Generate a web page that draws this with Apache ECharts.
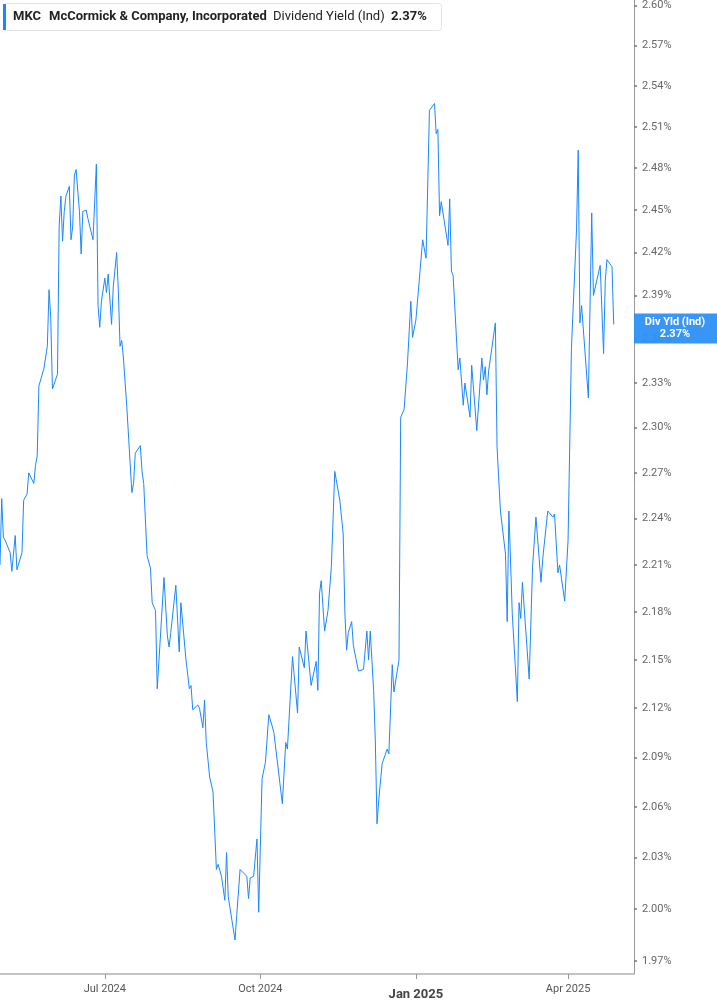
<!DOCTYPE html>
<html>
<head>
<meta charset="utf-8">
<script src="https://cdn.jsdelivr.net/npm/echarts@6/dist/echarts.min.js"></script>
<style>
  html, body { margin: 0; padding: 0; background: #fff; }
  #chart { width: 717px; height: 1005px; }
</style>
</head>
<body>
<div id="chart"></div>
<script>
// MKC dividend yield (indicated)
const dates = [
  '2024-04-30', '2024-05-01', '2024-05-02', '2024-05-03', '2024-05-06', '2024-05-07', '2024-05-09', '2024-05-10',
  '2024-05-13', '2024-05-14', '2024-05-15', '2024-05-16', '2024-05-17', '2024-05-20', '2024-05-21', '2024-05-22',
  '2024-05-23', '2024-05-24', '2024-05-26', '2024-05-28', '2024-05-29', '2024-05-30', '2024-05-31', '2024-06-03',
  '2024-06-04', '2024-06-05', '2024-06-06', '2024-06-07', '2024-06-08', '2024-06-10', '2024-06-11', '2024-06-12',
  '2024-06-13', '2024-06-14', '2024-06-16', '2024-06-17', '2024-06-18', '2024-06-20', '2024-06-21', '2024-06-24',
  '2024-06-26', '2024-06-27', '2024-06-28', '2024-06-29', '2024-07-01', '2024-07-02', '2024-07-03', '2024-07-05',
  '2024-07-06', '2024-07-08', '2024-07-09', '2024-07-10', '2024-07-11', '2024-07-12', '2024-07-14', '2024-07-17',
  '2024-07-18', '2024-07-19', '2024-07-22', '2024-07-23', '2024-07-24', '2024-07-26', '2024-07-28', '2024-07-29',
  '2024-07-31', '2024-08-01', '2024-08-05', '2024-08-07', '2024-08-08', '2024-08-09', '2024-08-12', '2024-08-14',
  '2024-08-15', '2024-08-18', '2024-08-19', '2024-08-20', '2024-08-21', '2024-08-22', '2024-08-25', '2024-08-26',
  '2024-08-28', '2024-08-29', '2024-08-30', '2024-09-01', '2024-09-03', '2024-09-05', '2024-09-06', '2024-09-08',
  '2024-09-10', '2024-09-11', '2024-09-12', '2024-09-16', '2024-09-17', '2024-09-19', '2024-09-23', '2024-09-24',
  '2024-09-25', '2024-09-27', '2024-09-29', '2024-09-30', '2024-10-02', '2024-10-04', '2024-10-06', '2024-10-08',
  '2024-10-09', '2024-10-14', '2024-10-16', '2024-10-17', '2024-10-20', '2024-10-23', '2024-10-24', '2024-10-27',
  '2024-10-28', '2024-10-31', '2024-11-03', '2024-11-04', '2024-11-05', '2024-11-06', '2024-11-08', '2024-11-10',
  '2024-11-12', '2024-11-14', '2024-11-17', '2024-11-19', '2024-11-20', '2024-11-21', '2024-11-22', '2024-11-24',
  '2024-11-25', '2024-11-26', '2024-11-28', '2024-12-01', '2024-12-03', '2024-12-04', '2024-12-05', '2024-12-07',
  '2024-12-08', '2024-12-09', '2024-12-10', '2024-12-11', '2024-12-12', '2024-12-15', '2024-12-16', '2024-12-18',
  '2024-12-19', '2024-12-22', '2024-12-23', '2024-12-25', '2024-12-27', '2024-12-29', '2024-12-30', '2025-01-01',
  '2025-01-02', '2025-01-05', '2025-01-07', '2025-01-09', '2025-01-12', '2025-01-13', '2025-01-14', '2025-01-15',
  '2025-01-16', '2025-01-20', '2025-01-21', '2025-01-22', '2025-01-23', '2025-01-26', '2025-01-27', '2025-01-29',
  '2025-01-30', '2025-02-02', '2025-02-03', '2025-02-04', '2025-02-06', '2025-02-09', '2025-02-10', '2025-02-11',
  '2025-02-12', '2025-02-13', '2025-02-17', '2025-02-18', '2025-02-20', '2025-02-23', '2025-02-24', '2025-02-25',
  '2025-02-27', '2025-03-02', '2025-03-03', '2025-03-04', '2025-03-05', '2025-03-09', '2025-03-11', '2025-03-13',
  '2025-03-16', '2025-03-17', '2025-03-18', '2025-03-20', '2025-03-23', '2025-03-24', '2025-03-26', '2025-03-27',
  '2025-03-30', '2025-03-31', '2025-04-01', '2025-04-03', '2025-04-06', '2025-04-07', '2025-04-08', '2025-04-09',
  '2025-04-13', '2025-04-15', '2025-04-16', '2025-04-20', '2025-04-22', '2025-04-23', '2025-04-24', '2025-04-27',
  '2025-04-28'
];

const yields = [
  2.210, 2.253, 2.228, 2.226, 2.218, 2.206, 2.229, 2.207,
  2.218, 2.252, 2.252, 2.256, 2.270, 2.263, 2.275, 2.281,
  2.328, 2.327, 2.340, 2.355, 2.394, 2.375, 2.326, 2.336,
  2.439, 2.460, 2.428, 2.449, 2.460, 2.467, 2.429, 2.438,
  2.475, 2.479, 2.449, 2.419, 2.449, 2.450, 2.444, 2.429,
  2.483, 2.383, 2.368, 2.386, 2.402, 2.392, 2.405, 2.370,
  2.396, 2.420, 2.393, 2.355, 2.359, 2.347, 2.314, 2.257,
  2.263, 2.283, 2.288, 2.271, 2.263, 2.216, 2.208, 2.186,
  2.181, 2.132, 2.202, 2.165, 2.158, 2.167, 2.197, 2.155,
  2.186, 2.150, 2.151, 2.132, 2.134, 2.119, 2.122, 2.120,
  2.108, 2.125, 2.099, 2.078, 2.069, 2.023, 2.026, 2.019,
  2.005, 2.033, 2.007, 1.982, 1.996, 2.023, 2.019, 2.006,
  2.018, 2.019, 2.041, 1.998, 2.077, 2.087, 2.116, 2.109,
  2.105, 2.062, 2.099, 2.095, 2.152, 2.117, 2.158, 2.145,
  2.168, 2.134, 2.149, 2.131, 2.192, 2.200, 2.168, 2.181,
  2.209, 2.271, 2.252, 2.230, 2.179, 2.156, 2.167, 2.174,
  2.159, 2.159, 2.143, 2.144, 2.168, 2.150, 2.168, 2.131,
  2.100, 2.050, 2.064, 2.064, 2.086, 2.095, 2.092, 2.147,
  2.130, 2.150, 2.307, 2.312, 2.343, 2.386, 2.361, 2.373,
  2.374, 2.429, 2.416, 2.522, 2.527, 2.505, 2.508, 2.446,
  2.456, 2.425, 2.458, 2.407, 2.404, 2.339, 2.347, 2.315,
  2.330, 2.307, 2.342, 2.343, 2.298, 2.347, 2.332, 2.341,
  2.322, 2.338, 2.371, 2.287, 2.245, 2.217, 2.174, 2.245,
  2.179, 2.124, 2.186, 2.176, 2.199, 2.138, 2.209, 2.241,
  2.199, 2.214, 2.214, 2.245, 2.241, 2.243, 2.205, 2.210,
  2.187, 2.188, 2.226, 2.354, 2.436, 2.493, 2.371, 2.383,
  2.320, 2.448, 2.390, 2.411, 2.350, 2.400, 2.415, 2.410,
  2.370
];

const yTicks = [1.97, 2.00, 2.03, 2.06, 2.09, 2.12, 2.15, 2.18, 2.21, 2.24, 2.27,
  2.30, 2.33, 2.36, 2.39, 2.42, 2.45, 2.48, 2.51, 2.54, 2.57, 2.60];
const xTicks = ['2024-07-01', '2024-10-01', '2025-01-01', '2025-04-01'];
const xTickLabels = ['Jul 2024', 'Oct 2024', 'Jan 2025', 'Apr 2025'];

const lineColor = '#1a88ff';
const lastValue = yields[yields.length - 1];

function ts(d) {
  return +new Date(d + 'T00:00:00');
}
const xTickTs = xTicks.map(ts);

const chart = echarts.init(document.getElementById('chart'));

chart.setOption({
  animation: false,
  textStyle: { fontFamily: 'Roboto' },
  grid: { left: 0, right: 83, top: 0, bottom: 31 },
  xAxis: {
    type: 'value',
    min: ts('2024-04-30'),
    max: ts('2025-05-10'),
    axisLine: { show: true, lineStyle: { color: '#b0b0b0', width: 1.5 } },
    axisTick: {
      show: true,
      customValues: xTickTs,
      length: 5,
      lineStyle: { color: '#999' }
    },
    axisLabel: {
      customValues: xTickTs,
      color: '#555',
      fontSize: 11,
      margin: 10,
      formatter: function (value) {
        const i = xTickTs.indexOf(value);
        const label = i >= 0 ? xTickLabels[i] : '';
        return label === 'Jan 2025' ? '{b|' + label + '}' : label;
      },
      rich: {
        b: { fontWeight: 'bold', fontSize: 13, color: '#444', padding: [4, 0, 0, 0] }
      }
    },
    splitLine: { show: false }
  },
  yAxis: {
    type: 'log',
    position: 'right',
    min: 1.9625,
    max: 2.6038,
    axisLine: { show: true, lineStyle: { color: '#999' } },
    axisTick: {
      show: true,
      customValues: yTicks,
      length: 3,
      lineStyle: { color: '#777', width: 1.5 }
    },
    axisLabel: {
      customValues: yTicks,
      color: '#666',
      fontSize: 11,
      margin: 8,
      formatter: function (v) { return (+v).toFixed(2) + '%'; }
    },
    splitLine: { show: false }
  },
  series: [
    {
      type: 'line',
      data: dates.map(function (d, i) { return [ts(d), yields[i]]; }),
      showSymbol: false,
      lineStyle: { color: lineColor, width: 1 },
      itemStyle: { color: lineColor }
    }
  ]
});

// header box and last-value tag
const lastY = chart.convertToPixel({ yAxisIndex: 0 }, lastValue);
const headerFont = { fontFamily: 'Roboto', fontSize: 13, fill: '#222' };
chart.setOption({
  graphic: [
    {
      type: 'rect',
      shape: { x: 3.5, y: 3.5, width: 438, height: 27, r: 3 },
      style: { fill: '#fff', stroke: '#e3e3e3', lineWidth: 1 }
    },
    {
      type: 'rect',
      shape: { x: 3, y: 4, width: 3, height: 26 },
      style: { fill: lineColor }
    },
    { type: 'text', x: 13, y: 17, style: Object.assign({ text: 'MKC', fontWeight: 'bold', verticalAlign: 'middle' }, headerFont) },
    { type: 'text', x: 49, y: 17, style: Object.assign({ text: 'McCormick & Company, Incorporated', fontWeight: 'bold', verticalAlign: 'middle' }, headerFont) },
    { type: 'text', x: 273, y: 17, style: Object.assign({ text: 'Dividend Yield (Ind)', verticalAlign: 'middle' }, headerFont) },
    { type: 'text', x: 391, y: 17, style: Object.assign({ text: lastValue.toFixed(2) + '%', fontWeight: 'bold', verticalAlign: 'middle' }, headerFont) },
    {
      type: 'rect',
      z: 100,
      shape: { x: 634, y: lastY - 11, width: 83, height: 30 },
      style: { fill: '#2a8ff5', opacity: 0.94 }
    },
    {
      type: 'text',
      z: 101,
      x: 675,
      y: lastY + 4,
      style: {
        text: 'Div Yld (Ind)\n' + lastValue.toFixed(2) + '%',
        fontFamily: 'Roboto',
        fontSize: 11,
        fontWeight: 'bold',
        lineHeight: 12,
        fill: '#fff',
        align: 'center',
        verticalAlign: 'middle'
      }
    }
  ]
});
</script>
</body>
</html>
